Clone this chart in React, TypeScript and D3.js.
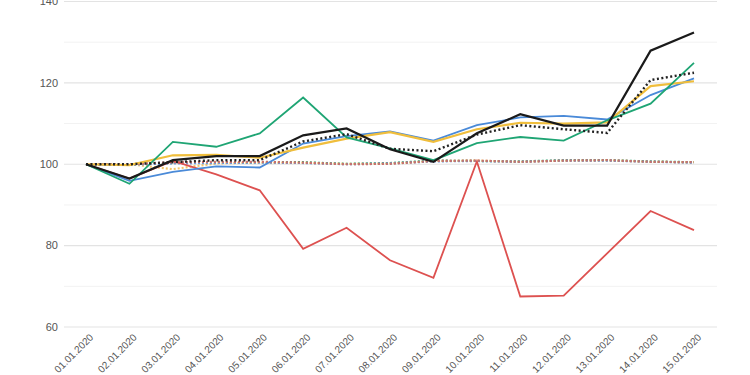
import React from "react";
import * as d3 from "d3";

const dates = [
  "01.01.2020", "02.01.2020", "03.01.2020", "04.01.2020", "05.01.2020",
  "06.01.2020", "07.01.2020", "08.01.2020", "09.01.2020", "10.01.2020",
  "11.01.2020", "12.01.2020", "13.01.2020", "14.01.2020", "15.01.2020",
];

const redSolid = [100, 96.5, 100.8, 97.5, 93.6, 79.2, 84.4, 76.4, 72.1, 100.7, 67.5, 67.7, 78.1, 88.5, 83.8];
const blackSolid = [100, 96.5, 101, 102, 102, 107.1, 108.8, 103.7, 100.6, 107.6, 112.3, 109.5, 109.5, 127.9, 132.4];
const greenSolid = [100, 95.2, 105.5, 104.3, 107.6, 116.4, 106.6, 103.9, 101, 105.2, 106.7, 105.8, 110.8, 114.9, 124.9];
const blueSolid = [100, 95.9, 98.1, 99.5, 99.2, 105.1, 106.9, 108.1, 105.8, 109.6, 111.5, 111.9, 111, 117, 121.1];
const yellowSolid = [100, 99.8, 102.2, 102.3, 101.6, 104.1, 106.3, 107.9, 105.5, 108.6, 110.2, 110, 110.3, 119.2, 120.4];
const blackDotted = [100, 100, 100.5, 101, 101, 105.6, 107.4, 103.8, 103.2, 107.3, 109.6, 108.6, 107.7, 120.7, 122.5];
const redDotted = [100, 100, 100.5, 100.6, 100.6, 100.4, 100, 100.1, 100.8, 100.9, 100.6, 100.9, 101, 100.6, 100.5];
const greenDotted = [100, 100, 100.3, 100.4, 100.5, 100.5, 100.1, 100.3, 100.9, 100.8, 100.7, 101, 101, 100.7, 100.5];
const blueDotted = [100, 99.9, 100.2, 100.3, 100.4, 100.3, 100, 100.2, 100.7, 100.8, 100.6, 100.9, 100.9, 100.6, 100.4];
const yellowDotted = [100, 100, 98.8, 100.2, 100.4, 100.4, 100.1, 100.2, 100.8, 100.9, 100.6, 100.9, 101, 100.6, 100.5];

const yMajorTicks = [60, 80, 100, 120, 140];
const yMinorTicks = [70, 90, 110, 130];

const series = [
  { name: "yellowDotted", values: yellowDotted, color: "#f4c46a", dash: "2,2", width: 2.2 },
  { name: "greenDotted", values: greenDotted, color: "#3aa77a", dash: "2,2", width: 2.2 },
  { name: "blueDotted", values: blueDotted, color: "#6c9ad8", dash: "2,2", width: 2.2 },
  { name: "redDotted", values: redDotted, color: "#c9706d", dash: "2,2", width: 2.2 },
  { name: "red", values: redSolid, color: "#dd5150", dash: null, width: 1.8 },
  { name: "blue", values: blueSolid, color: "#4a8ad8", dash: null, width: 1.8 },
  { name: "yellow", values: yellowSolid, color: "#f0be3c", dash: null, width: 2.2 },
  { name: "green", values: greenSolid, color: "#1fa574", dash: null, width: 1.8 },
  { name: "blackDotted", values: blackDotted, color: "#222222", dash: "2,2.5", width: 2.4 },
  { name: "black", values: blackSolid, color: "#1a1a1a", dash: null, width: 2.2 },
];

export default function App() {
  const W = 750, H = 375;
  const x = d3.scalePoint<string>().domain(dates).range([86, 694]);
  const y = d3.scaleLinear().domain([60, 140]).range([327, 1.5]);
  const line = d3
    .line<number>()
    .x((_, i) => x(dates[i]) as number)
    .y((d) => y(d));
  const font = "'Liberation Sans', Arial, sans-serif";

  return (
    <svg width={W} height={H} style={{ position: "absolute", left: 0, top: 0, background: "#fff" }}>
      {yMinorTicks.map((t) => (
        <line key={"m" + t} x1={64} x2={717} y1={y(t)} y2={y(t)} stroke="#f2f2f2" strokeWidth={1} />
      ))}
      {yMajorTicks.map((t) => (
        <line key={"M" + t} x1={64} x2={717} y1={y(t)} y2={y(t)} stroke="#e3e3e3" strokeWidth={1.2} />
      ))}
      {yMajorTicks.map((t) => (
        <text key={"l" + t} x={58} y={y(t)} dy="0.35em" textAnchor="end" fontSize={11} fill="#555" fontFamily={font}>
          {t}
        </text>
      ))}
      {dates.map((d) => (
        <text
          key={d}
          transform={`translate(${(x(d) as number) + 8},${338}) rotate(-45)`}
          textAnchor="end"
          fontSize={10}
          fill="#555"
          fontFamily={font}
        >
          {d}
        </text>
      ))}
      {series.map((s) => (
        <path
          key={s.name}
          d={line(s.values) || ""}
          fill="none"
          stroke={s.color}
          strokeWidth={s.width}
          strokeDasharray={s.dash || undefined}
          strokeLinejoin="miter"
        />
      ))}
    </svg>
  );
}
